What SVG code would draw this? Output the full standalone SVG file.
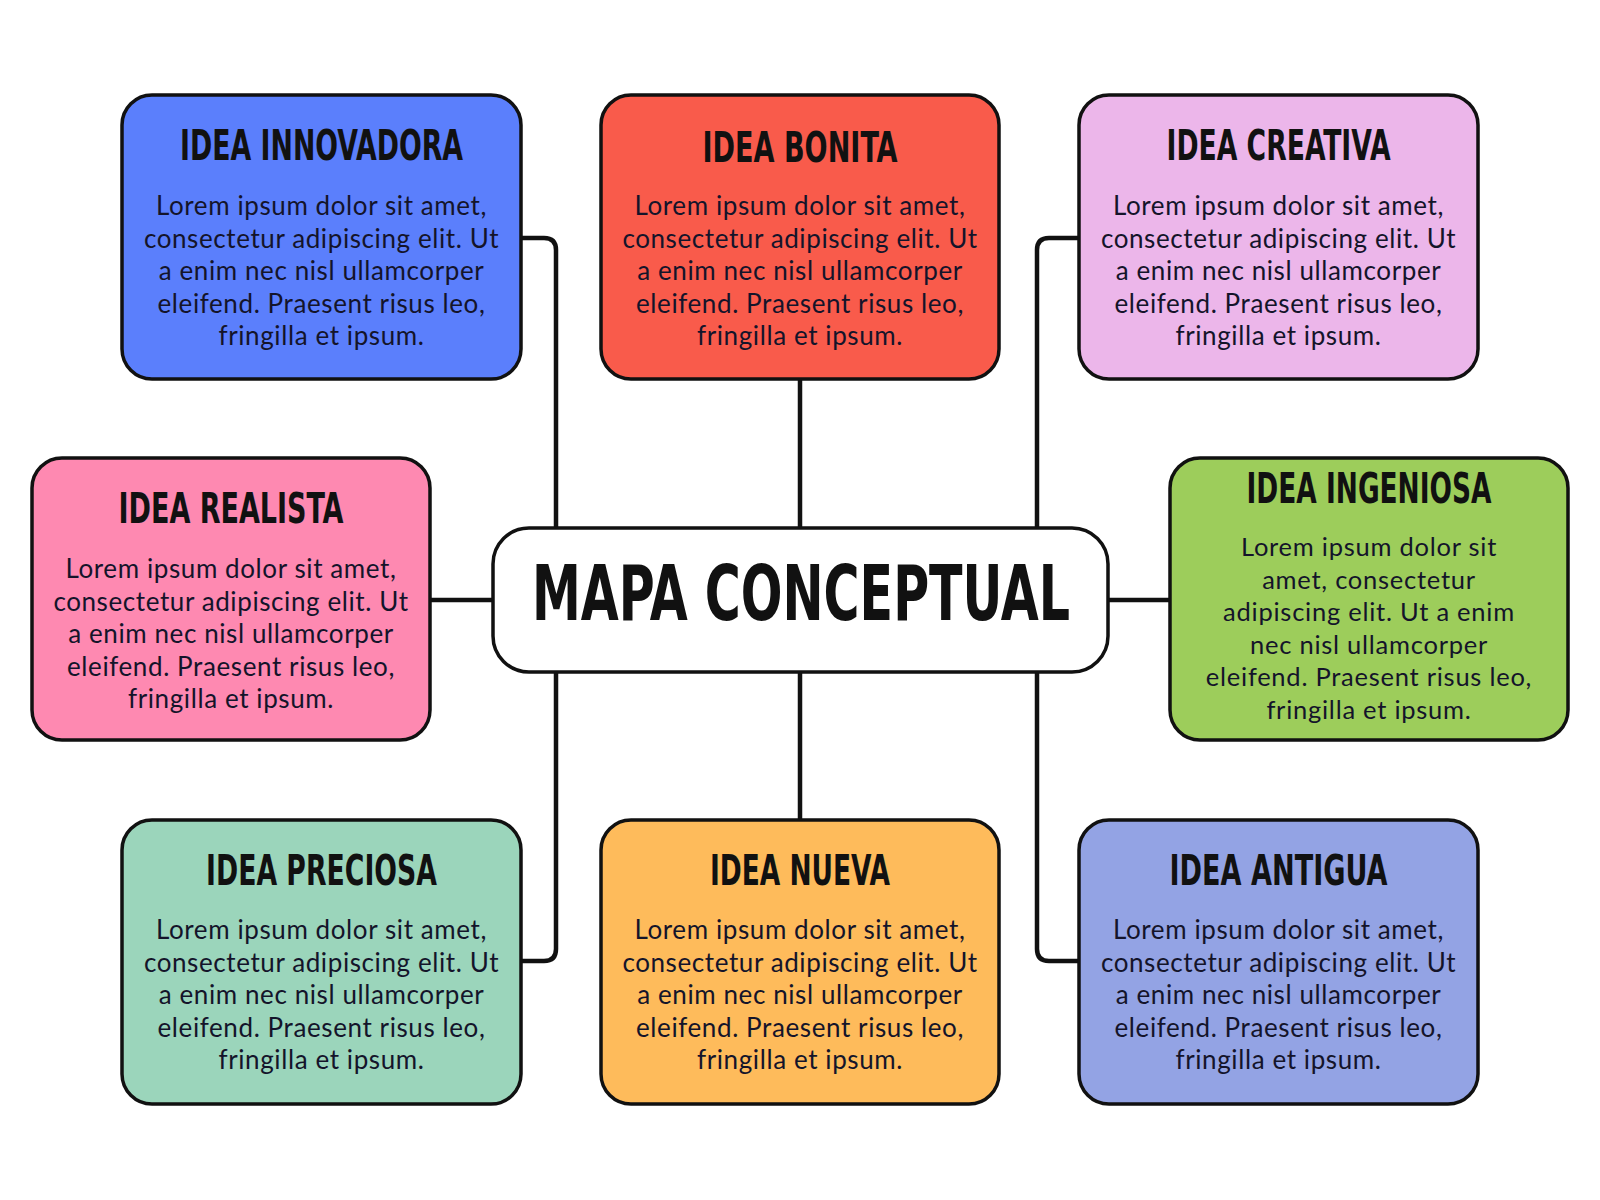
<svg xmlns="http://www.w3.org/2000/svg" width="1600" height="1200" viewBox="0 0 1600 1200">
<style>
.box{stroke:#111;stroke-width:3.5}
.conn{fill:none;stroke:#111;stroke-width:4.5;stroke-linejoin:round}
.t{font-family:"Liberation Sans Narrow","DejaVu Sans Condensed","Liberation Sans",sans-serif;font-weight:bold;font-size:42px;fill:#111;text-anchor:middle}
.b{font-family:Lato,"Open Sans",sans-serif;font-size:26px;letter-spacing:0.6px;fill:#14142a;text-anchor:middle}
.g{font-size:25.5px;letter-spacing:0.75px}
.main{font-family:"Liberation Sans Narrow","DejaVu Sans Condensed","Liberation Sans",sans-serif;font-weight:bold;font-size:76px;fill:#111;text-anchor:middle}
</style>
<rect width="1600" height="1200" fill="#fff"/>
<g id="connectors">
<path class="conn" d="M521 238 H544 Q556 238 556 250 V528"/>
<path class="conn" d="M800 379 V528"/>
<path class="conn" d="M1079 238 H1049 Q1037 238 1037 250 V528"/>
<path class="conn" d="M430 600 H493"/>
<path class="conn" d="M1108 600 H1170"/>
<path class="conn" d="M556 672 V949 Q556 961 544 961 H521"/>
<path class="conn" d="M800 672 V820"/>
<path class="conn" d="M1037 672 V949 Q1037 961 1049 961 H1079"/>
</g>
<g id="center">
<rect class="box" x="493" y="528" width="615" height="144" rx="36" fill="#fff"/>
<text class="main" x="801" y="620" textLength="538" lengthAdjust="spacingAndGlyphs">MAPA CONCEPTUAL</text>
</g>
<g id="innovadora">
<rect class="box" x="122" y="95" width="399" height="284" rx="30" fill="#5b7ffc"/>
<text class="t" x="321.5" y="160" textLength="283" lengthAdjust="spacingAndGlyphs">IDEA INNOVADORA</text>
<text class="b" x="321.5" y="215">Lorem ipsum dolor sit amet,</text>
<text class="b" x="321.5" y="247.5">consectetur adipiscing elit. Ut</text>
<text class="b" x="321.5" y="280">a enim nec nisl ullamcorper</text>
<text class="b" x="321.5" y="312.5">eleifend. Praesent risus leo,</text>
<text class="b" x="321.5" y="345">fringilla et ipsum.</text>
</g>
<g id="bonita">
<rect class="box" x="601" y="95" width="398" height="284" rx="30" fill="#f95b4b"/>
<text class="t" x="800" y="162" textLength="195" lengthAdjust="spacingAndGlyphs">IDEA BONITA</text>
<text class="b" x="800" y="215">Lorem ipsum dolor sit amet,</text>
<text class="b" x="800" y="247.5">consectetur adipiscing elit. Ut</text>
<text class="b" x="800" y="280">a enim nec nisl ullamcorper</text>
<text class="b" x="800" y="312.5">eleifend. Praesent risus leo,</text>
<text class="b" x="800" y="345">fringilla et ipsum.</text>
</g>
<g id="creativa">
<rect class="box" x="1079" y="95" width="399" height="284" rx="30" fill="#ecb6ea"/>
<text class="t" x="1278.5" y="160" textLength="224" lengthAdjust="spacingAndGlyphs">IDEA CREATIVA</text>
<text class="b" x="1278.5" y="215">Lorem ipsum dolor sit amet,</text>
<text class="b" x="1278.5" y="247.5">consectetur adipiscing elit. Ut</text>
<text class="b" x="1278.5" y="280">a enim nec nisl ullamcorper</text>
<text class="b" x="1278.5" y="312.5">eleifend. Praesent risus leo,</text>
<text class="b" x="1278.5" y="345">fringilla et ipsum.</text>
</g>
<g id="realista">
<rect class="box" x="32" y="458" width="398" height="282" rx="30" fill="#fe89b1"/>
<text class="t" x="231" y="523" textLength="225" lengthAdjust="spacingAndGlyphs">IDEA REALISTA</text>
<text class="b" x="231" y="578">Lorem ipsum dolor sit amet,</text>
<text class="b" x="231" y="610.5">consectetur adipiscing elit. Ut</text>
<text class="b" x="231" y="643">a enim nec nisl ullamcorper</text>
<text class="b" x="231" y="675.5">eleifend. Praesent risus leo,</text>
<text class="b" x="231" y="708">fringilla et ipsum.</text>
</g>
<g id="ingeniosa">
<rect class="box" x="1170" y="458" width="398" height="282" rx="30" fill="#9dcd5b"/>
<text class="t" x="1369" y="503" textLength="245" lengthAdjust="spacingAndGlyphs">IDEA INGENIOSA</text>
<text class="b g" x="1369" y="556">Lorem ipsum dolor sit</text>
<text class="b g" x="1369" y="588.5">amet, consectetur</text>
<text class="b g" x="1369" y="621">adipiscing elit. Ut a enim</text>
<text class="b g" x="1369" y="653.5">nec nisl ullamcorper</text>
<text class="b g" x="1369" y="686">eleifend. Praesent risus leo,</text>
<text class="b g" x="1369" y="718.5">fringilla et ipsum.</text>
</g>
<g id="preciosa">
<rect class="box" x="122" y="820" width="399" height="284" rx="30" fill="#9bd5bb"/>
<text class="t" x="321.5" y="885" textLength="231" lengthAdjust="spacingAndGlyphs">IDEA PRECIOSA</text>
<text class="b" x="321.5" y="939">Lorem ipsum dolor sit amet,</text>
<text class="b" x="321.5" y="971.5">consectetur adipiscing elit. Ut</text>
<text class="b" x="321.5" y="1004">a enim nec nisl ullamcorper</text>
<text class="b" x="321.5" y="1036.5">eleifend. Praesent risus leo,</text>
<text class="b" x="321.5" y="1069">fringilla et ipsum.</text>
</g>
<g id="nueva">
<rect class="box" x="601" y="820" width="398" height="284" rx="30" fill="#febb5b"/>
<text class="t" x="800" y="885" textLength="180" lengthAdjust="spacingAndGlyphs">IDEA NUEVA</text>
<text class="b" x="800" y="939">Lorem ipsum dolor sit amet,</text>
<text class="b" x="800" y="971.5">consectetur adipiscing elit. Ut</text>
<text class="b" x="800" y="1004">a enim nec nisl ullamcorper</text>
<text class="b" x="800" y="1036.5">eleifend. Praesent risus leo,</text>
<text class="b" x="800" y="1069">fringilla et ipsum.</text>
</g>
<g id="antigua">
<rect class="box" x="1079" y="820" width="399" height="284" rx="30" fill="#93a3e4"/>
<text class="t" x="1278.5" y="885" textLength="218" lengthAdjust="spacingAndGlyphs">IDEA ANTIGUA</text>
<text class="b" x="1278.5" y="939">Lorem ipsum dolor sit amet,</text>
<text class="b" x="1278.5" y="971.5">consectetur adipiscing elit. Ut</text>
<text class="b" x="1278.5" y="1004">a enim nec nisl ullamcorper</text>
<text class="b" x="1278.5" y="1036.5">eleifend. Praesent risus leo,</text>
<text class="b" x="1278.5" y="1069">fringilla et ipsum.</text>
</g>
</svg>
